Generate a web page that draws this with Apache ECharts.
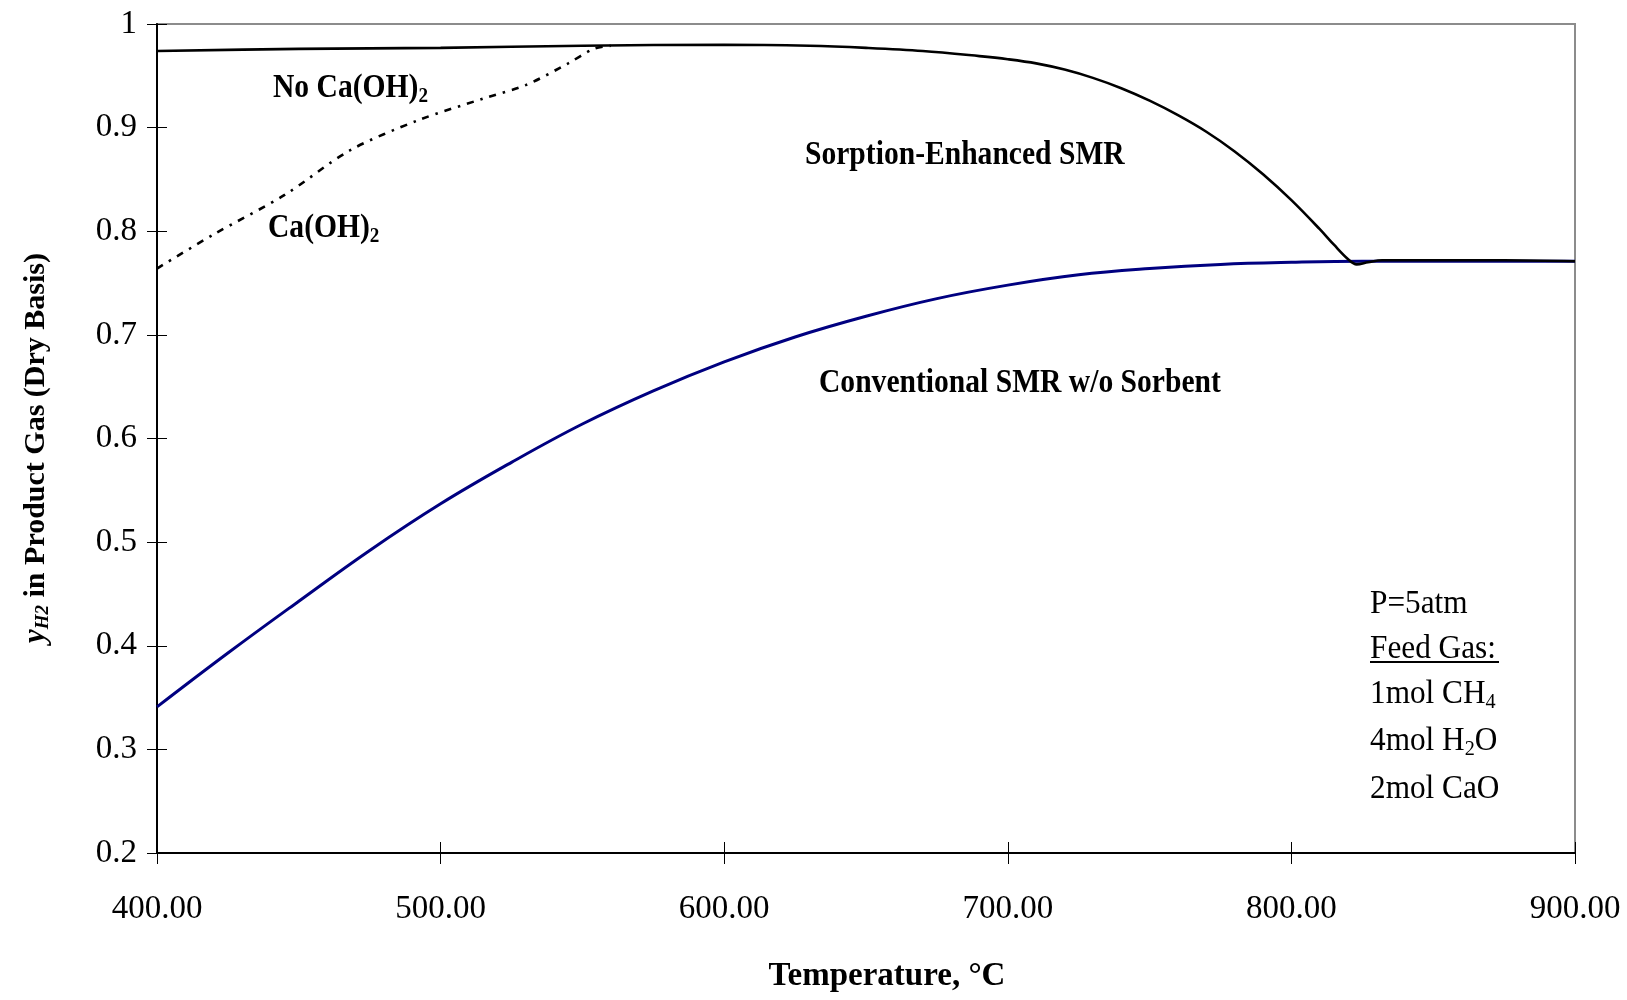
<!DOCTYPE html>
<html>
<head>
<meta charset="utf-8">
<script src="https://cdn.jsdelivr.net/npm/echarts@6/dist/echarts.min.js"></script>
<style>
  html, body { margin: 0; padding: 0; background: #fff; }
  #chart { width: 1627px; height: 1000px; }
</style>
</head>
<body>
<div id="chart"></div>
<script>
// values
const xTicks = [400, 500, 600, 700, 800, 900];
const yTicks = [0.2, 0.3, 0.4, 0.5, 0.6, 0.7, 0.8, 0.9, 1];

const conventionalT = [400, 425, 450, 475, 500, 525, 550, 575, 600, 625, 650, 675, 700, 725, 750, 775, 800, 825, 850, 875, 900];
const conventionalY = [0.341, 0.393, 0.443, 0.492, 0.537, 0.577, 0.614, 0.646, 0.674, 0.698, 0.718, 0.735, 0.748, 0.758, 0.764, 0.768, 0.770, 0.771, 0.771, 0.771, 0.771];

const sorptionT = [400, 450, 500, 550, 600, 630, 650, 670, 690, 700, 710, 720, 730, 740, 750, 760, 770, 780, 790, 800, 810, 815, 820, 823, 827, 832, 850, 875, 900];
const sorptionY = [0.974, 0.976, 0.977, 0.979, 0.980, 0.979, 0.977, 0.974, 0.969, 0.966, 0.962, 0.956, 0.948, 0.938, 0.926, 0.912, 0.896, 0.877, 0.855, 0.830, 0.802, 0.787, 0.773, 0.768, 0.770, 0.772, 0.772, 0.772, 0.771];

const caT = [400, 420, 445, 468, 492, 515, 530, 545, 554, 560];
const caY = [0.764, 0.797, 0.835, 0.878, 0.907, 0.928, 0.941, 0.962, 0.976, 0.979];

const FONT = '"Liberation Serif", "Times New Roman", serif';

const zip = (xs, ys) => xs.map((x, i) => [x, ys[i]]);

const chart = echarts.init(document.getElementById('chart'));

const subRich = {
    b: { fontFamily: FONT, fontWeight: 'bold', fontSize: 34, lineHeight: 38, color: '#000' },
    s: { fontFamily: FONT, fontWeight: 'bold', fontSize: 22, lineHeight: 14, verticalAlign: 'bottom', color: '#000' },
    r: { fontFamily: FONT, fontSize: 34, lineHeight: 38, color: '#000' },
    rs: { fontFamily: FONT, fontSize: 22, lineHeight: 14, verticalAlign: 'bottom', color: '#000' },
    u: { fontFamily: FONT, fontSize: 34, lineHeight: 38, color: '#000' }
};

function note(left, top, text, opts) {
    return Object.assign({
        type: 'text',
        left: left,
        top: top,
        scaleX: 0.87,
        style: { text: text, rich: subRich, fill: '#000' }
    }, opts || {});
}

const option = {
    backgroundColor: '#fff',
    animation: false,
    grid: {
        left: 157, right: 52, top: 24, bottom: 147,
        show: true,
        borderColor: '#8c8c8c',
        borderWidth: 2
    },
    xAxis: [{
        type: 'value',
        min: 400, max: 900, interval: 100,
        name: 'Temperature, °C',
        nameLocation: 'middle',
        nameGap: 107,
        nameTextStyle: { fontFamily: FONT, fontWeight: 'bold', fontSize: 33, color: '#000', padding: [0, 0, 0, 42] },
        axisLine: { show: true, lineStyle: { color: '#000', width: 2 } },
        axisTick: { show: true, inside: false, length: 11, lineStyle: { color: '#000', width: 1 } },
        axisLabel: {
            margin: 40,
            fontFamily: FONT, fontSize: 33, color: '#000',
            formatter: v => v.toFixed(2)
        },
        splitLine: { show: false }
    }, {
        type: 'value',
        min: 400, max: 900, interval: 100,
        position: 'bottom',
        axisLine: { show: false },
        axisTick: { show: true, inside: true, length: 11, lineStyle: { color: '#000', width: 1 } },
        axisLabel: { show: false },
        splitLine: { show: false }
    }],
    yAxis: [{
        type: 'value',
        min: 0.2, max: 1, interval: 0.1,
        name: '{yi|y}{h|H2}{t| in Product Gas (Dry Basis)}',
        nameLocation: 'middle',
        nameGap: 104,
        nameTextStyle: {
            padding: [0, 19, 0, 0],
            rich: {
                yi: { fontFamily: FONT, fontWeight: 'bold', fontStyle: 'italic', fontSize: 31, lineHeight: 34, color: '#000' },
                h: { fontFamily: FONT, fontWeight: 'bold', fontStyle: 'italic', fontSize: 19, lineHeight: 14, verticalAlign: 'bottom', color: '#000' },
                t: { fontFamily: FONT, fontWeight: 'bold', fontSize: 30, lineHeight: 34, color: '#000' }
            }
        },
        axisLine: { show: true, lineStyle: { color: '#000', width: 2 } },
        axisTick: { show: true, inside: false, length: 10, lineStyle: { color: '#000', width: 1 } },
        axisLabel: {
            margin: 20,
            fontFamily: FONT, fontSize: 33, color: '#000',
            formatter: v => String(Math.round(v * 10) / 10)
        },
        splitLine: { show: false }
    }, {
        type: 'value',
        min: 0.2, max: 1, interval: 0.1,
        position: 'left',
        axisLine: { show: false },
        axisTick: { show: true, inside: true, length: 10, lineStyle: { color: '#000', width: 1 } },
        axisLabel: { show: false },
        splitLine: { show: false }
    }],
    series: [{
        name: 'Conventional SMR w/o Sorbent',
        type: 'line',
        data: zip(conventionalT, conventionalY),
        showSymbol: false,
        smooth: 0.4,
        lineStyle: { color: '#000080', width: 3 },
        z: 3
    }, {
        name: 'Sorption-Enhanced SMR',
        type: 'line',
        data: zip(sorptionT, sorptionY),
        showSymbol: false,
        smooth: 0.35,
        lineStyle: { color: '#000', width: 2.6 },
        z: 4
    }, {
        name: 'Ca(OH)2',
        type: 'line',
        data: zip(caT, caY),
        showSymbol: false,
        smooth: 0.3,
        lineStyle: { color: '#000', width: 2.6, type: [7, 7, 2.5, 7] },
        z: 4
    }],
    graphic: [
        note(273, 71, '{b|No Ca(OH)}{s|2}'),
        note(268, 211, '{b|Ca(OH)}{s|2}'),
        note(805, 138, '{b|Sorption-Enhanced SMR}'),
        note(819, 366, '{b|Conventional SMR w/o Sorbent}'),
        note(1370, 587, '{r|P=5atm}', { scaleX: 0.92 }),
        note(1370, 632, '{u|Feed Gas:}', { scaleX: 0.92 }),
        note(1370, 677, '{r|1mol CH}{rs|4}', { scaleX: 0.92 }),
        note(1370, 724, '{r|4mol H}{rs|2}{r|O}', { scaleX: 0.92 }),
        note(1370, 772, '{r|2mol CaO}', { scaleX: 0.92 }),
        {
            type: 'line',
            shape: { x1: 1370, y1: 662, x2: 1499, y2: 662 },
            style: { stroke: '#000', lineWidth: 2 }
        }
    ]
};

chart.setOption(option);
</script>
</body>
</html>
